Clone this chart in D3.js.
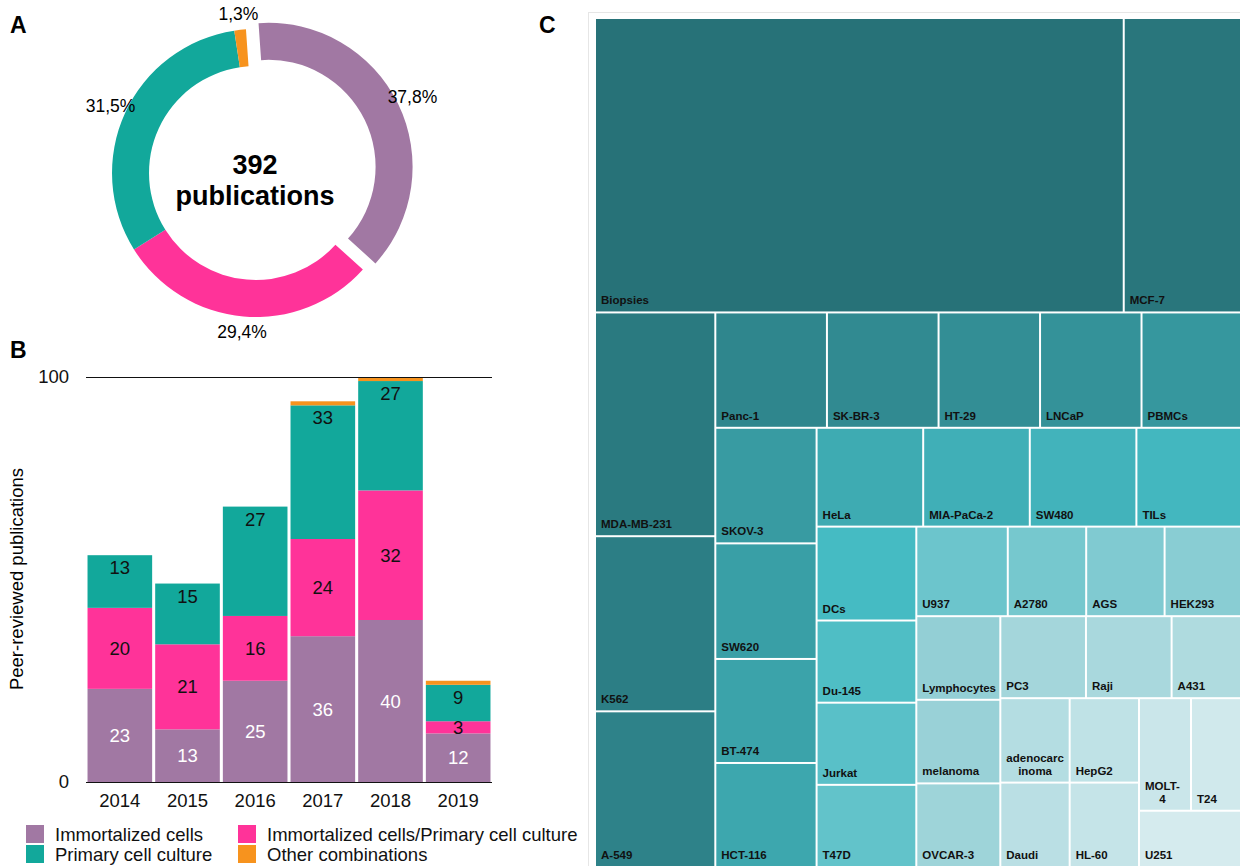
<!DOCTYPE html>
<html>
<head>
<meta charset="utf-8">
<script src="https://cdn.jsdelivr.net/npm/d3@7"></script>
<style>
  body { margin: 0; background: #fff; }
  svg { display: block; font-family: "Liberation Sans", Arial, Helvetica, sans-serif; }
</style>
</head>
<body>
<svg id="fig" width="1240" height="866"></svg>
<script>
// ---- data ----
// A: share of publications by culture type
const categories = ["Immortalized cells", "Immortalized cells/Primary cell culture", "Primary cell culture", "Other combinations"];
const shareValues = [37.8, 29.4, 31.5, 1.3];
const shareLabels = ["37,8%", "29,4%", "31,5%", "1,3%"];
const totalPublications = "392";

// B: publications per year
const years = ["2014", "2015", "2016", "2017", "2018", "2019"];
const immortalized = [23, 13, 25, 36, 40, 12];
const mixed = [20, 21, 16, 24, 32, 3];
const primary = [13, 15, 27, 33, 27, 9];
const other = [0, 0, 0, 1, 1, 1];
const yTicks = [0, 100];

// C: cell types used
const cellNames = ["Biopsies", "MCF-7", "MDA-MB-231", "K562", "A-549", "Panc-1", "SK-BR-3", "HT-29", "LNCaP", "PBMCs",
  "SKOV-3", "SW620", "BT-474", "HCT-116", "HeLa", "MIA-PaCa-2", "SW480", "TILs", "DCs", "Du-145", "Jurkat", "T47D",
  "U937", "A2780", "AGS", "HEK293", "Lymphocytes", "melanoma", "OVCAR-3", "PC3", "Raji", "A431",
  "adenocarcinoma", "Daudi", "HepG2", "HL-60", "MOLT-4", "T24", "U251"];
const cellCounts = [133, 30, 23, 18, 16, 11, 11, 10, 10, 10,
  10, 10, 9, 9, 9, 9, 9, 9, 8, 7, 7, 7,
  7, 6, 6, 6, 6, 6, 6, 6, 6, 5,
  5, 5, 5, 5, 5, 5, 5];
// how many cells go in each strip of the treemap
const stripSizes = [2, 3, 5, 4, 4, 4, 4, 3, 3, 2, 2, 2, 1];
// labels that wrap inside narrow cells
const wrapped = { "adenocarcinoma": ["adenocarc", "inoma"], "MOLT-4": ["MOLT-", "4"] };

const color = d3.scaleOrdinal()
  .domain(categories)
  .range(["#a178a3", "#ff3399", "#12a89b", "#f7931e"]);

const svg = d3.select("#fig");

// panel letters
svg.selectAll(".panel")
  .data([["A", 10, 33], ["B", 10, 358], ["C", 539, 33]])
  .enter().append("text")
  .attr("x", d => d[1]).attr("y", d => d[2])
  .style("font-size", "23px").style("font-weight", "bold")
  .text(d => d[0]);

// ---- A: donut ----
const cx = 256, cy = 173;
const start = -4 * Math.PI / 180;
const pie = d3.pie().sort(null).startAngle(start).endAngle(start + 2 * Math.PI);
const arcs = pie(shareValues);
const arc = d3.arc().innerRadius(107).outerRadius(144);
const labelArc = d3.arc().innerRadius(160).outerRadius(160);
const explode = [14, 0, 0, 0];

const gA = svg.append("g").attr("transform", "translate(" + cx + "," + cy + ")");

function shift(d, i) {
  const a = (d.startAngle + d.endAngle) / 2;
  return [Math.sin(a) * explode[i], -Math.cos(a) * explode[i]];
}

gA.selectAll("path")
  .data(arcs)
  .enter().append("path")
  .attr("d", arc)
  .attr("fill", (d, i) => color(categories[i]))
  .attr("transform", (d, i) => "translate(" + shift(d, i) + ")");

gA.selectAll(".pct")
  .data(arcs)
  .enter().append("text")
  .attr("class", "pct")
  .attr("transform", (d, i) => {
    const c = labelArc.centroid(d), s = shift(d, i);
    return "translate(" + (c[0] + s[0]) + "," + (c[1] + s[1] + 6) + ")";
  })
  .style("text-anchor", "middle")
  .style("font-size", "17.5px")
  .text((d, i) => shareLabels[i]);

gA.append("text").attr("x", -1).attr("y", 1)
  .style("text-anchor", "middle").style("font-size", "27px").style("font-weight", "bold")
  .text(totalPublications);
gA.append("text").attr("x", -1).attr("y", 32)
  .style("text-anchor", "middle").style("font-size", "27px").style("font-weight", "bold")
  .text("publications");

// ---- B: stacked bars ----
const table = years.map((y, i) => ({
  year: y,
  [categories[0]]: immortalized[i],
  [categories[1]]: mixed[i],
  [categories[2]]: primary[i],
  [categories[3]]: other[i]
}));

const series = d3.stack().keys(categories)(table);

const x = d3.scaleBand().domain(years).range([86, 492]).paddingInner(0.045).paddingOuter(0.0225);
const y = d3.scaleLinear().domain([0, 100]).range([782, 377]);

const gB = svg.append("g");

gB.selectAll(".layer")
  .data(series)
  .enter().append("g")
  .attr("fill", d => color(d.key))
  .selectAll("rect")
  .data(d => d)
  .enter().append("rect")
  .attr("x", d => x(d.data.year))
  .attr("width", x.bandwidth())
  .attr("y", d => y(d[1]))
  .attr("height", d => y(d[0]) - y(d[1]));

// lines at 0 and 100
gB.selectAll(".grid")
  .data(yTicks)
  .enter().append("line")
  .attr("x1", 86).attr("x2", 492)
  .attr("y1", d => y(d) + 0.5).attr("y2", d => y(d) + 0.5)
  .attr("stroke", "#111").attr("stroke-width", 1);

const yAxis = d3.axisLeft(y).tickValues(yTicks).tickSize(0).tickPadding(0);
gB.append("g")
  .attr("transform", "translate(69,0)")
  .call(yAxis)
  .call(g => g.select(".domain").remove())
  .selectAll("text")
  .style("font-size", "18.5px").style("font-family", "Liberation Sans, Arial, sans-serif")
  .attr("fill", "#111");

const xAxis = d3.axisBottom(x).tickSize(0).tickPadding(0);
gB.append("g")
  .attr("transform", "translate(0,794)")
  .call(xAxis)
  .call(g => g.select(".domain").remove())
  .selectAll("text")
  .style("font-size", "18.5px").style("font-family", "Liberation Sans, Arial, sans-serif")
  .attr("fill", "#111");

gB.append("text")
  .attr("transform", "translate(23,579) rotate(-90)")
  .style("text-anchor", "middle").style("font-size", "18.5px")
  .text("Peer-reviewed publications");

// value labels (primary culture sits at the top of its segment)
series.slice(0, 3).forEach((s, k) => {
  gB.selectAll(".v" + k)
    .data(s.filter(d => d[1] - d[0] > 0))
    .enter().append("text")
    .attr("x", d => x(d.data.year) + x.bandwidth() / 2)
    .attr("y", d => k === 2 ? y(d[1]) + 12.5 + 6.6 : (y(d[0]) + y(d[1])) / 2 + 6.6)
    .style("text-anchor", "middle")
    .style("font-size", "18.5px")
    .attr("fill", k === 0 ? "#fff" : "#111")
    .text(d => d[1] - d[0]);
});

// legend
const legendPos = [[26, 825], [238, 825], [26, 845], [238, 845]];
const leg = gB.selectAll(".leg")
  .data(categories)
  .enter().append("g")
  .attr("transform", (d, i) => "translate(" + legendPos[i] + ")");
leg.append("rect").attr("width", 18).attr("height", 18).attr("fill", d => color(d));
leg.append("text").attr("x", 29).attr("y", 16)
  .style("font-size", "18.5px").attr("fill", "#111")
  .text(d => d);

// ---- C: treemap ----
svg.append("rect")
  .attr("x", 588.5).attr("y", 12.5).attr("width", 700).attr("height", 900)
  .attr("fill", "none").attr("stroke", "#e6e6e6");

function stripTile(parent, x0, y0, x1, y1) {
  const nodes = parent.children;
  let value = parent.value, i = 0;
  stripSizes.forEach(n => {
    const group = { children: nodes.slice(i, i + n) };
    group.value = d3.sum(group.children, d => d.value);
    const dx = x1 - x0, dy = y1 - y0;
    if (dx < dy) {
      const yy = value ? y0 + dy * group.value / value : y1;
      d3.treemapDice(group, x0, y0, x1, yy);
      y0 = yy;
    } else {
      const xx = value ? x0 + dx * group.value / value : x1;
      d3.treemapSlice(group, x0, y0, xx, y1);
      x0 = xx;
    }
    value -= group.value;
    i += n;
  });
}

const root = d3.hierarchy({ children: cellNames.map((n, i) => ({ name: n, value: cellCounts[i], rank: i })) })
  .sum(d => d.value || 0);

d3.treemap().tile(stripTile).size([646, 847]).paddingInner(2)(root);

const shade = d3.scaleLinear()
  .domain([0, 18, 26, 38])
  .range(["#277278", "#45bbc3", "#93cfd5", "#d5ebee"]);

const gC = svg.append("g").attr("transform", "translate(596,19)");
const cell = gC.selectAll(".cell")
  .data(root.leaves())
  .enter().append("g")
  .attr("transform", d => "translate(" + d.x0 + "," + d.y0 + ")");

cell.append("rect")
  .attr("width", d => d.x1 - d.x0)
  .attr("height", d => d.y1 - d.y0)
  .attr("fill", d => shade(d.data.rank));

cell.each(function(d) {
  const g = d3.select(this);
  const h = d.y1 - d.y0;
  const lines = wrapped[d.data.name] || [d.data.name];
  const t = g.append("text")
    .style("font-size", "11.5px").style("font-weight", "bold").attr("fill", "#111");
  if (lines.length === 1) {
    t.attr("x", 5).attr("y", h - 7).text(lines[0]);
  } else {
    lines.forEach((l, j) => {
      t.append("tspan").attr("x", 0).attr("y", h - 7 - (lines.length - 1 - j) * 13).text(l);
    });
    const w = t.select("tspan").node().getComputedTextLength();
    t.attr("text-anchor", "middle");
    t.selectAll("tspan").attr("x", 5 + w / 2);
  }
});
</script>
</body>
</html>
